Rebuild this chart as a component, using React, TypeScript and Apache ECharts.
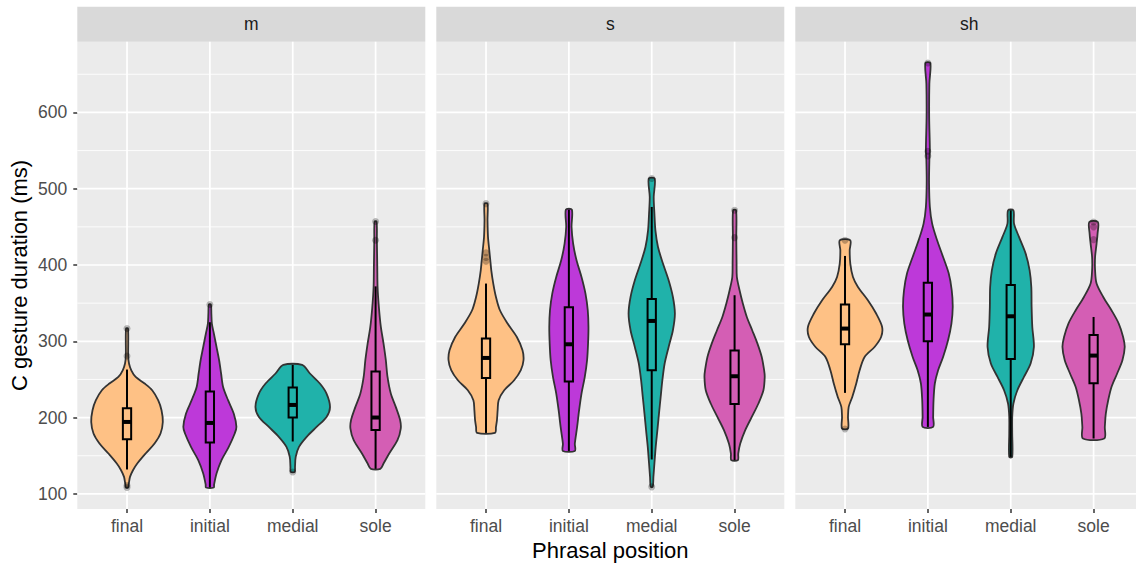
import React, { useEffect, useRef } from "react";
import * as echarts from "echarts";

// ---------------- data ----------------
const facets = ["m", "s", "sh"];
const positions = ["final", "initial", "medial", "sole"];
const fillColors = ["#FEC185", "#BD39D9", "#20B2AA", "#D45EB4"];
const yMajorTicks = [100, 200, 300, 400, 500, 600];
const yMinorTicks = [150, 250, 350, 450, 550, 650];
const yRange = [80.2, 692.7];
const xPositions = [1, 2, 3, 4];

// violin density profiles: [duration (ms), density (arbitrary units)], top to bottom
const violin_m_final = [[316.7,1],[280.8,1.2],[270.9,2],[262,4.3],[253.3,8.7],[244.7,17.7],[235.9,25.3],[222.8,31.3],[209.7,34.7],[194.3,36],[179.1,33.7],[166,27.7],[152.9,18.7],[139.8,10.3],[131,6],[122.3,3],[113.6,1.8],[108.4,1]];
const violin_m_initial = [[348.2,1],[336.3,1.5],[323.3,2],[310.2,4],[292.6,6.7],[275.2,9.3],[257.8,11.3],[240.2,13.3],[222.8,18.3],[205.3,24],[187.8,26.7],[179.1,25],[161.6,19],[144.2,11.7],[126.7,6.7],[112,4.2],[108.4,4]];
const violin_m_medial = [[269,9.5],[257.8,17.3],[244.7,27.3],[231.5,34],[214,37.5],[200.9,34],[187.8,24],[174.7,14],[161.6,6.3],[148.5,3],[135.4,2.3],[128.8,2]];
const violin_m_sole = [[457,1],[432.4,1.3],[397.4,1.7],[371.2,2],[345,3.3],[318.8,5.3],[297,8],[275.2,10.3],[253.3,12],[231.5,15.3],[214,20.3],[196.6,24.7],[185.7,25.3],[170.4,22],[152.9,13.7],[139.8,8],[132.8,4.7]];

const violin_s_final = [[480.5,1.5],[458.6,1.5],[436.8,2],[419.3,3.3],[406.2,4.3],[393.1,5.3],[375.7,7.3],[358.1,10],[340.7,14],[323.3,21.7],[305.7,31],[288.3,36.7],[275.2,37.7],[262.1,35],[248.9,28.3],[235.9,18.3],[222.8,12.7],[209.7,11.7],[196.6,11],[187.8,10],[179.9,9]];
const violin_s_initial = [[472.6,3],[449.9,2.7],[428,4.3],[406.2,7.7],[384.3,12.7],[362.5,16.7],[340.7,19],[318.8,19.7],[297,19.3],[275.2,18.3],[253.3,16],[231.5,12.7],[209.7,10.3],[187.8,8.3],[165.9,6],[156.3,6]];
const violin_s_medial = [[513.3,3],[489.2,2],[467.4,2.7],[445.5,3.7],[423.6,6.3],[401.9,11.3],[380,17],[358.1,21.3],[336.4,23.3],[314.5,21.3],[292.6,17],[270.9,13],[249,10.7],[227.1,9],[205.3,7.3],[183.5,5.7],[161.6,4],[139.8,2.7],[122.3,1.7],[109.2,1]];
const violin_s_sole = [[471.7,1.5],[435.9,1.7],[401.9,2],[384.3,2.3],[366.9,5],[349.5,8.3],[331.9,12.3],[314.5,17.7],[297,23],[279.5,27.3],[262.1,29.7],[253.3,30.3],[235.9,29],[218.5,24],[200.9,17.3],[183.5,10.7],[165.9,5.7],[152.9,3.7],[144.2,3.3]];

const violin_sh_final = [[432.4,5.3],[419.3,4.7],[401.9,5.3],[384.3,8],[371.2,13],[353.8,23],[336.4,31.3],[318.8,37.3],[305.7,36.3],[292.6,29.7],[279.5,19.7],[262.1,14.7],[244.7,11.3],[227.1,7.3],[214,3.7],[200.9,3],[185.7,3]];
const violin_sh_initial = [[664.8,2.5],[637.7,1.5],[594,1.3],[550.3,2],[537.2,1.5],[506.7,1.2],[476.1,2],[454.3,4.3],[432.4,9.3],[410.5,15.3],[388.8,21],[366.9,24],[345,25],[323.3,23.7],[301.4,20.3],[279.5,15.3],[262.1,10.3],[244.7,7],[222.8,5.7],[200.9,5.3],[187.8,5.3]];
const violin_sh_medial = [[471.7,2.7],[454.3,3.3],[436.8,8.3],[414.9,15],[393.1,19],[371.2,20.7],[345,21],[318.8,21.7],[292.6,23.3],[270.9,20],[253.3,13.3],[235.9,6.7],[218.5,2.7],[200.9,1.5],[179.1,1.5],[148.5,1.5]];
const violin_sh_sole = [[456.4,4.3],[441.2,4],[428,3],[410.5,1.5],[393.1,1.5],[375.7,3],[358.1,9.7],[340.7,18],[323.3,25.3],[305.7,29.7],[292.6,31.3],[275.2,29],[257.8,23.7],[240.2,18],[222.8,14.7],[205.3,12.3],[187.8,11.3],[172.6,10.7]];

// box stats: [lower whisker, Q1, median, Q3, upper whisker] per position
const box_m = [[132,171.7,194.3,212.3,263],[108.4,167.3,193,234.2,325],[168.7,200.1,216.6,239.4,269],[132.8,183.9,200.1,260.4,372]];
const box_s = [[179.9,252,278.2,303.6,375.7],[156.3,247.3,296.1,344.6,472.6],[145.1,262.1,326.7,355.5,476.1],[144.2,217.9,254.2,287.9,360.4]];
const box_sh = [[232.4,296.1,316.7,348.2,411.9],[187.8,300,335.1,376.9,435.4],[148.5,276.9,332.8,373.8,471.7],[172.6,245,281.3,308.3,331.9]];

// outliers: [position index (1-4), duration]
const outliers_m = [[1,316.7],[1,280.8],[1,108.4],[1,111],[2,348.2],[3,128.8],[4,457],[4,432.4]];
const outliers_s = [[1,480.5],[1,416],[1,410],[1,405],[3,513.3],[3,109.2],[4,471.7],[4,435.9]];
const outliers_sh = [[1,432.4],[1,185],[2,664.8],[2,549],[2,543],[4,456.4],[4,450],[4,433.3]];

// ---------------- assembly ----------------
const violins = [
  [violin_m_final, violin_m_initial, violin_m_medial, violin_m_sole],
  [violin_s_final, violin_s_initial, violin_s_medial, violin_s_sole],
  [violin_sh_final, violin_sh_initial, violin_sh_medial, violin_sh_sole],
];
const boxes = [box_m, box_s, box_sh];
const outliers = [outliers_m, outliers_s, outliers_sh];
const DENSITY_MAX = 37.5;

const FONT = "'Liberation Sans', Arial, Helvetica, sans-serif";
const PANEL_LEFTS = [77.3, 436.3, 795.3];
const PANEL_W = 348;
const PANEL_TOP = 41.7;
const PANEL_BOTTOM = 509;
const STRIP_TOP = 6.7;
const TICK_FONT = 17.5;
const TITLE_FONT = 22;

function violinRenderer(f: number) {
  return (params: any, api: any) => {
    const i = params.dataIndex;
    const pos = xPositions[i];
    const prof = violins[f][i];
    const st = boxes[f][i];
    const color = fillColors[i];
    const unit = api.size([1, 0])[0];
    const cx = api.coord([pos, 300])[0];
    const k = (unit * 0.45) / DENSITY_MAX;
    const y = (v: number) => api.coord([pos, v])[1];
    const right = prof.map(([v, d]) => [cx + d * k, y(v)]);
    const left = prof.slice().reverse().map(([v, d]) => [cx - d * k, y(v)]);
    const bw = unit * 0.1;
    return {
      type: "group",
      children: [
        {
          type: "polygon",
          shape: { points: right.concat(left), smooth: 0.3 },
          style: { fill: color, stroke: "#333333", lineWidth: 1.8 },
        },
        {
          type: "line",
          shape: { x1: cx, y1: y(st[0]), x2: cx, y2: y(st[4]) },
          style: { stroke: "#000", lineWidth: 2 },
        },
        {
          type: "rect",
          shape: { x: cx - bw / 2, y: y(st[3]), width: bw, height: y(st[1]) - y(st[3]) },
          style: { fill: color, stroke: "#000", lineWidth: 2 },
        },
        {
          type: "line",
          shape: { x1: cx - bw / 2, y1: y(st[2]), x2: cx + bw / 2, y2: y(st[2]) },
          style: { stroke: "#000", lineWidth: 4 },
        },
      ],
    };
  };
}

function gridRenderer(params: any, api: any) {
  const kind = api.value(2);
  const cs = params.coordSys;
  if (kind === 2) {
    const x = api.coord([api.value(0), 300])[0];
    return {
      type: "line",
      shape: { x1: x, y1: cs.y, x2: x, y2: cs.y + cs.height },
      style: { stroke: "#FFFFFF", lineWidth: 1.7 },
    };
  }
  const yy = api.coord([1, api.value(1)])[1];
  return {
    type: "line",
    shape: { x1: cs.x, y1: yy, x2: cs.x + cs.width, y2: yy },
    style: { stroke: "#FFFFFF", lineWidth: kind === 0 ? 1.7 : 0.85 },
  };
}

const gridLineData = [
  ...yMinorTicks.map((v) => [1, v, 1]),
  ...yMajorTicks.map((v) => [1, v, 0]),
  ...xPositions.map((p) => [p, 300, 2]),
];

export default function App() {
  const ref = useRef<HTMLDivElement>(null);
  useEffect(() => {
    if (!ref.current) return;
    const chart = echarts.init(ref.current, null, { renderer: "svg" });
    const grids = facets.map((_, f) => ({
      left: PANEL_LEFTS[f],
      top: PANEL_TOP,
      width: PANEL_W,
      height: PANEL_BOTTOM - PANEL_TOP,
      show: true,
      backgroundColor: "#EBEBEB",
      borderWidth: 0,
      containLabel: false,
      outerBoundsMode: "none",
    }));
    const xAxes = facets.map((_, f) => ({
      type: "value",
      gridIndex: f,
      min: 0.4,
      max: 4.6,
      axisLine: { show: false },
      splitLine: { show: false },
      axisTick: {
        show: true,
        length: 4,
        customValues: xPositions,
        lineStyle: { color: "#333333", width: 1.5 },
      },
      axisLabel: {
        show: true,
        customValues: xPositions,
        formatter: (v: number) => positions[Math.round(v) - 1] ?? "",
        color: "#4D4D4D",
        fontSize: TICK_FONT,
        fontFamily: FONT,
        margin: 8,
      },
    }));
    const yAxes = facets.map((_, f) => ({
      type: "value",
      gridIndex: f,
      min: yRange[0],
      max: yRange[1],
      axisLine: { show: false },
      splitLine: { show: false },
      axisTick: {
        show: f === 0,
        length: 4,
        customValues: yMajorTicks,
        lineStyle: { color: "#333333", width: 1.5 },
      },
      axisLabel: {
        show: f === 0,
        customValues: yMajorTicks,
        color: "#4D4D4D",
        fontSize: TICK_FONT,
        fontFamily: FONT,
        margin: 10,
      },
      name: f === 0 ? "C gesture duration (ms)" : "",
      nameLocation: "middle",
      nameGap: 47,
      nameTextStyle: { color: "#000000", fontSize: TITLE_FONT, fontFamily: FONT },
    }));
    const series: any[] = [];
    facets.forEach((_, f) => {
      series.push({
        type: "custom",
        xAxisIndex: f,
        yAxisIndex: f,
        dimensions: ["x", "y", "kind"],
        encode: { x: 0, y: 1 },
        data: gridLineData,
        renderItem: gridRenderer,
        silent: true,
        z: 1,
      });
      series.push({
        type: "custom",
        xAxisIndex: f,
        yAxisIndex: f,
        data: xPositions.map((p, i) => [p, boxes[f][i][2]]),
        encode: { x: 0, y: 1 },
        renderItem: violinRenderer(f),
        z: 2,
      });
      series.push({
        type: "scatter",
        xAxisIndex: f,
        yAxisIndex: f,
        data: outliers[f],
        symbol: "circle",
        symbolSize: 7,
        itemStyle: { color: "rgba(0,0,0,0.33)" },
        z: 3,
      });
    });
    const graphics: any[] = [];
    facets.forEach((name, f) => {
      graphics.push({
        type: "rect",
        shape: { x: PANEL_LEFTS[f], y: STRIP_TOP, width: PANEL_W, height: PANEL_TOP - STRIP_TOP },
        style: { fill: "#D9D9D9" },
        silent: true,
      });
      graphics.push({
        type: "text",
        x: PANEL_LEFTS[f] + PANEL_W / 2,
        y: (STRIP_TOP + PANEL_TOP) / 2,
        style: {
          text: name,
          fill: "#1A1A1A",
          font: `${TICK_FONT}px ${FONT}`,
          align: "center",
          verticalAlign: "middle",
        },
        silent: true,
      });
    });
    graphics.push({
      type: "text",
      x: (PANEL_LEFTS[0] + PANEL_LEFTS[2] + PANEL_W) / 2,
      y: 550,
      style: {
        text: "Phrasal position",
        fill: "#000000",
        font: `${TITLE_FONT}px ${FONT}`,
        align: "center",
        verticalAlign: "middle",
      },
      silent: true,
    });
    chart.setOption({
      animation: false,
      backgroundColor: "#FFFFFF",
      grid: grids,
      xAxis: xAxes,
      yAxis: yAxes,
      series,
      graphic: graphics,
    });
    return () => chart.dispose();
  }, []);
  return (
    <div
      ref={ref}
      style={{ position: "fixed", left: 0, top: 0, width: 1136, height: 565 }}
    />
  );
}
